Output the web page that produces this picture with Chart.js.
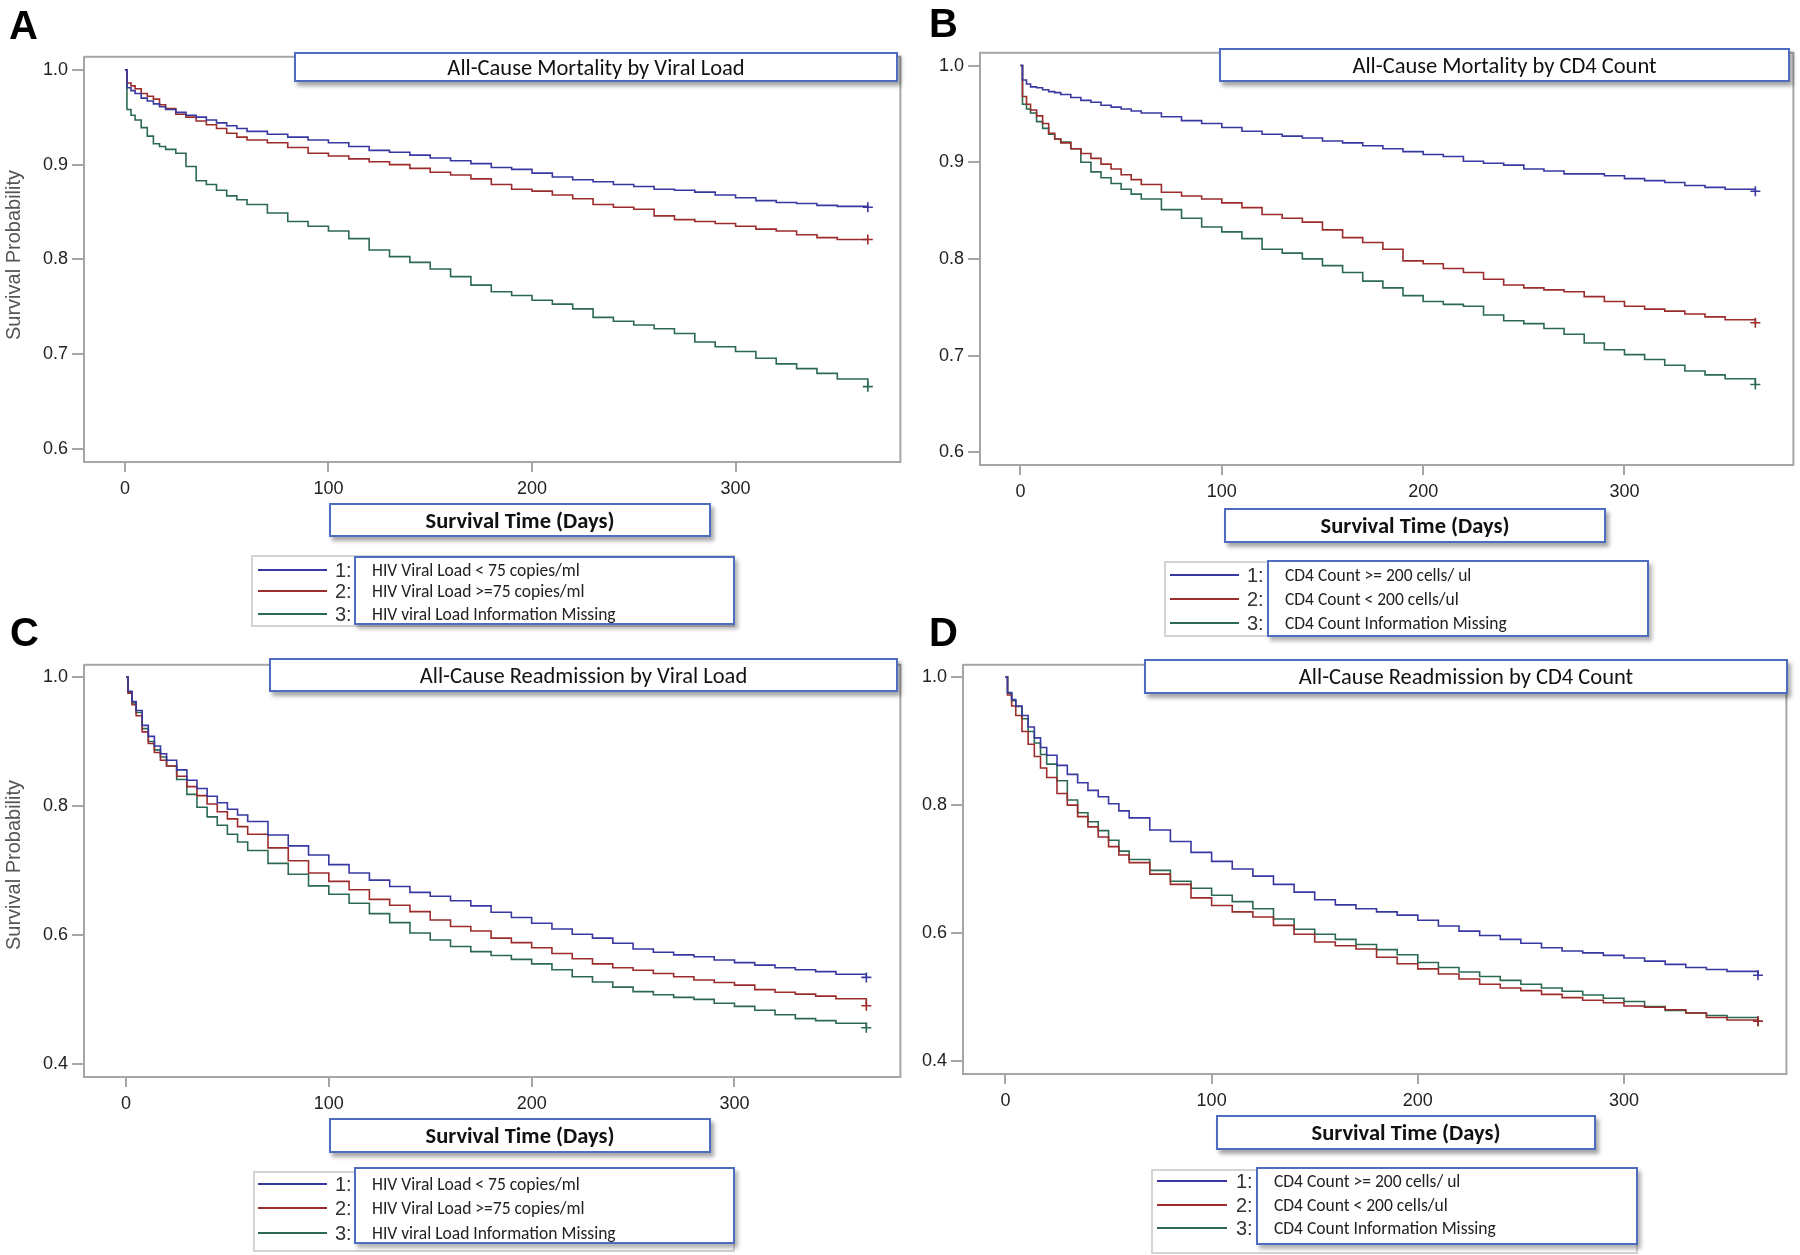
<!DOCTYPE html>
<html>
<head>
<meta charset="utf-8">
<script src="https://cdn.jsdelivr.net/npm/chart.js@4.4.1/dist/chart.umd.min.js"></script>
<style>
  body { margin:0; background:#fff; width:1800px; height:1255px; position:relative; overflow:hidden;
         font-family:"Liberation Sans", Arial, sans-serif; }
  .letter { position:absolute; font-weight:bold; font-size:40px; line-height:40px; color:#000; }
  .box { position:absolute; background:#fff; border:2px solid #4e6cc0; box-sizing:border-box;
         box-shadow:3px 4px 4px rgba(0,0,0,0.35); display:flex; align-items:center; justify-content:center;
         font-family:Carlito, Lato, "Open Sans", sans-serif; color:#111; white-space:nowrap; }
  .ylab { position:absolute; font-size:20px; color:#555; white-space:nowrap; transform:translate(-50%,-50%) rotate(-90deg); }
  .legOuter { position:absolute; border:2px solid #d4d4d4; background:#fff; box-sizing:border-box; }
  .legInner { position:absolute; background:#fff; border:2px solid #4e6cc0; box-sizing:border-box;
              box-shadow:3px 4px 4px rgba(0,0,0,0.3); }
  .legRow { position:absolute; white-space:nowrap; transform:translateY(-50%);
            font-family:Carlito, Lato, sans-serif; font-size:17.5px; color:#222; }
  .legLine { position:absolute; height:2px; }
  .legNum { position:absolute; font-size:20px; color:#333; transform:translateY(-50%); }
</style>
</head>
<body>
<script>
// survival time grid (days) shared by all curves
const days = [0,1,3,5,8,11,14,17,20,25,30,35,40,45,50,55,60,
              70,80,90,100,110,120,130,140,150,160,170,180,190,200,
              210,220,230,240,250,260,270,280,290,300,310,320,330,340,350,365];

// A: all-cause mortality by viral load
const mortVlLow = [1.0,0.981,0.978,0.975,0.970,0.967,0.964,0.961,0.958,0.955,0.952,0.950,0.947,0.944,0.941,0.938,0.935,
  0.932,0.929,0.926,0.923,0.919,0.915,0.913,0.910,0.907,0.904,0.901,0.897,0.895,0.891,
  0.887,0.884,0.882,0.879,0.877,0.874,0.873,0.871,0.868,0.865,0.862,0.860,0.859,0.857,0.856,0.855];
const mortVlHigh = [1.0,0.986,0.983,0.980,0.975,0.972,0.969,0.963,0.959,0.953,0.950,0.946,0.942,0.938,0.933,0.929,0.926,
  0.923,0.918,0.912,0.909,0.906,0.903,0.900,0.896,0.892,0.889,0.885,0.879,0.874,0.872,
  0.868,0.864,0.858,0.855,0.853,0.846,0.842,0.840,0.838,0.835,0.832,0.830,0.826,0.823,0.821,0.821];
const mortVlMissing = [1.0,0.958,0.952,0.947,0.939,0.930,0.922,0.919,0.916,0.912,0.898,0.883,0.879,0.873,0.867,0.863,0.858,
  0.849,0.840,0.835,0.830,0.822,0.810,0.803,0.797,0.790,0.782,0.773,0.766,0.762,0.757,
  0.753,0.748,0.739,0.735,0.731,0.727,0.722,0.713,0.708,0.703,0.696,0.690,0.685,0.680,0.674,0.666];

// B: all-cause mortality by CD4 count
const mortCd4High = [1.0,0.985,0.981,0.978,0.977,0.975,0.973,0.972,0.970,0.967,0.964,0.962,0.959,0.957,0.955,0.953,0.951,
  0.947,0.943,0.940,0.936,0.932,0.929,0.927,0.925,0.922,0.920,0.917,0.914,0.911,0.908,
  0.906,0.901,0.899,0.897,0.893,0.891,0.888,0.888,0.886,0.883,0.881,0.879,0.876,0.874,0.872,0.870];
const mortCd4Low = [1.0,0.968,0.960,0.954,0.948,0.940,0.930,0.924,0.920,0.914,0.909,0.904,0.898,0.893,0.887,0.882,0.877,
  0.869,0.865,0.862,0.858,0.853,0.846,0.842,0.838,0.830,0.822,0.817,0.810,0.798,0.795,
  0.790,0.786,0.779,0.773,0.770,0.768,0.766,0.761,0.756,0.751,0.748,0.746,0.743,0.740,0.737,0.734];
const mortCd4Missing = [1.0,0.960,0.955,0.951,0.942,0.935,0.929,0.924,0.921,0.914,0.900,0.890,0.884,0.878,0.872,0.867,0.862,
  0.851,0.842,0.833,0.828,0.821,0.810,0.806,0.800,0.793,0.786,0.777,0.770,0.762,0.756,
  0.753,0.751,0.742,0.736,0.733,0.728,0.722,0.713,0.706,0.701,0.696,0.690,0.684,0.680,0.676,0.670];

// C: all-cause readmission by viral load
const readmVlLow = [1.0,0.978,0.962,0.948,0.925,0.908,0.893,0.881,0.871,0.856,0.840,0.827,0.815,0.805,0.795,0.786,0.776,
  0.755,0.738,0.724,0.709,0.696,0.685,0.675,0.666,0.660,0.653,0.645,0.635,0.627,0.618,
  0.609,0.601,0.595,0.587,0.578,0.573,0.569,0.566,0.561,0.557,0.553,0.549,0.546,0.543,0.539,0.534];
const readmVlHigh = [1.0,0.975,0.957,0.940,0.915,0.897,0.883,0.871,0.862,0.846,0.830,0.816,0.803,0.791,0.780,0.768,0.756,
  0.735,0.715,0.696,0.683,0.670,0.655,0.646,0.636,0.623,0.613,0.606,0.595,0.588,0.580,
  0.571,0.563,0.555,0.549,0.545,0.540,0.535,0.530,0.526,0.522,0.515,0.511,0.508,0.505,0.501,0.490];
const readmVlMissing = [1.0,0.976,0.960,0.945,0.920,0.900,0.887,0.876,0.862,0.841,0.818,0.798,0.783,0.770,0.756,0.744,0.731,
  0.711,0.694,0.676,0.663,0.649,0.633,0.619,0.603,0.592,0.582,0.574,0.568,0.562,0.555,
  0.546,0.535,0.527,0.519,0.512,0.507,0.503,0.500,0.494,0.489,0.483,0.476,0.470,0.467,0.463,0.456];

// D: all-cause readmission by CD4 count
const readmCd4High = [1.0,0.976,0.965,0.955,0.940,0.922,0.905,0.890,0.878,0.862,0.848,0.835,0.823,0.813,0.802,0.791,0.780,
  0.761,0.743,0.726,0.712,0.700,0.689,0.676,0.664,0.652,0.644,0.638,0.633,0.628,0.620,
  0.611,0.603,0.596,0.590,0.584,0.577,0.572,0.569,0.565,0.561,0.556,0.551,0.546,0.543,0.540,0.534];
const readmCd4Low = [1.0,0.972,0.955,0.940,0.915,0.895,0.876,0.858,0.843,0.818,0.800,0.782,0.766,0.750,0.735,0.722,0.710,
  0.692,0.676,0.655,0.643,0.633,0.625,0.612,0.598,0.586,0.580,0.575,0.562,0.552,0.544,
  0.536,0.528,0.520,0.514,0.510,0.504,0.499,0.495,0.491,0.486,0.484,0.480,0.475,0.468,0.464,0.462];
const readmCd4Missing = [1.0,0.975,0.963,0.954,0.935,0.915,0.897,0.879,0.864,0.838,0.808,0.788,0.774,0.760,0.745,0.728,0.715,
  0.698,0.681,0.670,0.659,0.649,0.638,0.622,0.606,0.598,0.590,0.582,0.574,0.566,0.554,
  0.546,0.539,0.532,0.526,0.520,0.514,0.509,0.503,0.498,0.493,0.485,0.479,0.475,0.471,0.468,0.462];

const vlLabels  = ["HIV Viral Load < 75 copies/ml", "HIV Viral Load >=75 copies/ml", "HIV viral Load Information Missing"];
const cd4Labels = ["CD4 Count >= 200 cells/ ul", "CD4 Count < 200 cells/ul", "CD4 Count Information Missing"];
const groupNums = ["1:", "2:", "3:"];
const xTicks = [0, 100, 200, 300];
const yTicksMort = [0.6, 0.7, 0.8, 0.9, 1.0];
const yTicksReadm = [0.4, 0.6, 0.8, 1.0];

const colors = ["#3838a2", "#9c2b2b", "#2b6a50"];
const frameGrey = "#a6a6a6";

const panels = [
  { letter:"A", lx:9,   ly:5,   series:[mortVlLow, mortVlHigh, mortVlMissing], labels:vlLabels, yTicks:yTicksMort,
    frame:[84,48,901,462], xr:[-20.1,381], yr:[0.5866,1.0136], ylab:[13,255],
    title:"All-Cause Mortality by Viral Load", tbox:[294,52,604,30],
    xbox:[329,503,382,34],
    leg:{outer:[251,555,484,72], inner:[354,556,381,69], rows:[570,591,614], line:[258,327], num:335} },
  { letter:"B", lx:929, ly:3,   series:[mortCd4High, mortCd4Low, mortCd4Missing], labels:cd4Labels, yTicks:yTicksMort,
    frame:[980,44,1794,465], xr:[-20.1,383.9], yr:[0.5868,1.0132], ylab:null,
    title:"All-Cause Mortality by CD4 Count", tbox:[1219,48,571,34],
    xbox:[1224,508,382,35],
    leg:{outer:[1164,561,485,76], inner:[1267,560,382,77], rows:[575,599,623], line:[1170,1239], num:1247} },
  { letter:"C", lx:10,  ly:612, series:[readmVlLow, readmVlHigh, readmVlMissing], labels:vlLabels, yTicks:yTicksReadm,
    frame:[84,656,901,1077], xr:[-20.7,381.8], yr:[0.3795,1.019], ylab:[13,865],
    title:"All-Cause Readmission by Viral Load", tbox:[269,658,629,34],
    xbox:[329,1118,382,35],
    leg:{outer:[253,1171,482,81], inner:[354,1167,381,77], rows:[1184,1208,1233], line:[258,327], num:335} },
  { letter:"D", lx:929, ly:612, series:[readmCd4High, readmCd4Low, readmCd4Missing], labels:cd4Labels, yTicks:yTicksReadm,
    frame:[963,656,1787,1074], xr:[-20.6,378.8], yr:[0.3796,1.0193], ylab:null,
    title:"All-Cause Readmission by CD4 Count", tbox:[1144,659,644,35],
    xbox:[1216,1115,380,35],
    leg:{outer:[1151,1169,487,85], inner:[1256,1167,382,78], rows:[1181,1205,1228], line:[1157,1227], num:1236} }
];

const framePlugin = {
  id: "frame",
  beforeDatasetsDraw(chart) {
    const a = chart.chartArea, ctx = chart.ctx;
    ctx.save();
    ctx.strokeStyle = frameGrey;
    ctx.lineWidth = 2;
    ctx.strokeRect(a.left, a.top, a.right - a.left, a.bottom - a.top);
    ctx.restore();
  }
};

function el(cls, css, text) {
  const d = document.createElement("div");
  if (cls) d.className = cls;
  Object.assign(d.style, css);
  if (text !== undefined) d.textContent = text;
  document.body.appendChild(d);
  return d;
}
const px = v => v + "px";
const tickFont = { family: "'Liberation Sans', Arial, sans-serif", size: 18 };

panels.forEach(p => {
  const [fl, ft, fr, fb] = p.frame;
  const yW = 60, padTop = 6, padRight = 6, xH = 42;
  const left = fl - yW, top = ft - padTop;
  const w = (fr - fl) + yW + padRight, h = (fb - ft) + padTop + xH;

  const canvas = document.createElement("canvas");
  canvas.width = w; canvas.height = h;
  Object.assign(canvas.style, { position:"absolute", left:px(left), top:px(top), width:px(w), height:px(h) });
  document.body.appendChild(canvas);

  const last = days.length - 1;
  new Chart(canvas, {
    type: "line",
    data: {
      datasets: p.series.map((s, i) => ({
        data: days.map((d, k) => ({ x: d, y: s[k] })),
        borderColor: colors[i],
        borderWidth: 1.6,
        stepped: true,
        fill: false,
        pointStyle: "cross",
        pointRadius: c => c.dataIndex === last ? 5 : 0,
        pointBorderColor: colors[i],
        pointBorderWidth: 1.6,
        pointHoverRadius: 0
      }))
    },
    options: {
      responsive: false,
      animation: false,
      events: [],
      layout: { padding: { top: padTop, right: padRight, left: 0, bottom: 0 } },
      plugins: { legend: { display: false }, tooltip: { enabled: false } },
      scales: {
        x: {
          type: "linear", min: p.xr[0], max: p.xr[1],
          afterBuildTicks: s => { s.ticks = xTicks.map(v => ({ value: v })); },
          afterFit: s => { s.height = xH; },
          border: { display: false },
          grid: { drawOnChartArea: false, drawTicks: true, tickLength: 10, color: frameGrey, lineWidth: 2 },
          ticks: { font: tickFont, color: "#222", padding: 6, maxRotation: 0 }
        },
        y: {
          type: "linear", min: p.yr[0], max: p.yr[1],
          afterBuildTicks: s => { s.ticks = p.yTicks.map(v => ({ value: v })); },
          afterFit: s => { s.width = yW; },
          border: { display: false },
          grid: { drawOnChartArea: false, drawTicks: true, tickLength: 12, color: frameGrey, lineWidth: 2 },
          ticks: { font: tickFont, color: "#222", padding: 4, callback: v => v.toFixed(1) }
        }
      }
    },
    plugins: [framePlugin]
  });

  // panel letter
  el("letter", { left:px(p.lx), top:px(p.ly) }, p.letter);

  // y axis title
  if (p.ylab) el("ylab", { left:px(p.ylab[0]), top:px(p.ylab[1]) }, "Survival Probability");

  // title box
  const [tx, ty, tw, th] = p.tbox;
  el("box", { left:px(tx), top:px(ty), width:px(tw), height:px(th), fontSize:"22.5px" }, p.title);

  // x axis title box
  const [bx, by, bw, bh] = p.xbox;
  el("box", { left:px(bx), top:px(by), width:px(bw), height:px(bh), fontSize:"22.5px", fontWeight:"bold" }, "Survival Time (Days)");

  // legend
  const L = p.leg;
  el("legOuter", { left:px(L.outer[0]), top:px(L.outer[1]), width:px(L.outer[2]), height:px(L.outer[3]) });
  L.rows.forEach((ry, i) => {
    el("legLine", { left:px(L.line[0]), top:px(ry - 1), width:px(L.line[1] - L.line[0]), background:colors[i] });
    el("legNum", { left:px(L.num), top:px(ry) }, groupNums[i]);
  });
  el("legInner", { left:px(L.inner[0]), top:px(L.inner[1]), width:px(L.inner[2]), height:px(L.inner[3]) });
  L.rows.forEach((ry, i) => {
    el("legRow", { left:px(L.inner[0] + 18), top:px(ry) }, p.labels[i]);
  });
});
</script>
</body>
</html>
